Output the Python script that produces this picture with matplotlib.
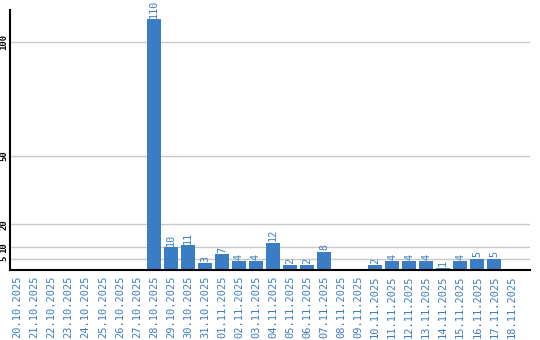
import numpy as np
import matplotlib
matplotlib.use("Agg")
import matplotlib.pyplot as plt

# daily counts, 20.10.2025 - 18.11.2025
dates = [
    "20.10.2025", "21.10.2025", "22.10.2025", "23.10.2025", "24.10.2025",
    "25.10.2025", "26.10.2025", "27.10.2025", "28.10.2025", "29.10.2025",
    "30.10.2025", "31.10.2025", "01.11.2025", "02.11.2025", "03.11.2025",
    "04.11.2025", "05.11.2025", "06.11.2025", "07.11.2025", "08.11.2025",
    "09.11.2025", "10.11.2025", "11.11.2025", "12.11.2025", "13.11.2025",
    "14.11.2025", "15.11.2025", "16.11.2025", "17.11.2025", "18.11.2025",
]
counts = [0, 0, 0, 0, 0, 0, 0, 0, 110, 10,
          11, 3, 7, 4, 4, 12, 2, 2, 8, 0,
          0, 2, 4, 4, 4, 1, 4, 5, 5, 0]
y_ticks = [5, 10, 20, 50, 100]

BLUE = "#3a7dc4"
FONT = "DejaVu Sans Mono"

fig = plt.figure(figsize=(5.4, 3.4), dpi=100)
ax = fig.add_axes([10 / 540, 70 / 340, 520 / 540, 260 / 340])

x = np.arange(len(dates))
ax.bar(x, counts, width=0.82, color=BLUE, zorder=2)

# value labels above non-empty bars
for xi, v in zip(x, counts):
    if v > 0:
        ax.text(xi, v + 0.6, str(v), rotation=90, ha="center", va="bottom",
                color=BLUE, fontsize=7.3, family=FONT)

ax.set_xlim(-0.45, 30.1)
ax.set_ylim(0, 114)

ax.set_yticks(y_ticks)
ax.set_yticklabels([str(t) for t in y_ticks], rotation=90, va="center",
                   fontsize=6.5, family=FONT, fontweight="bold")
ax.yaxis.grid(True, color="#c8c8c8", linewidth=1, zorder=0)

ax.set_xticks(x)
ax.set_xticklabels(dates, rotation=90, color=BLUE, fontsize=7.5, family=FONT)

ax.tick_params(axis="both", length=0)
ax.tick_params(axis="x", pad=4)
ax.tick_params(axis="y", pad=1)

for side in ["top", "right"]:
    ax.spines[side].set_visible(False)
for side in ["left", "bottom"]:
    ax.spines[side].set_linewidth(1.5)
    ax.spines[side].set_zorder(3)

fig.savefig("out.png", dpi=100)
